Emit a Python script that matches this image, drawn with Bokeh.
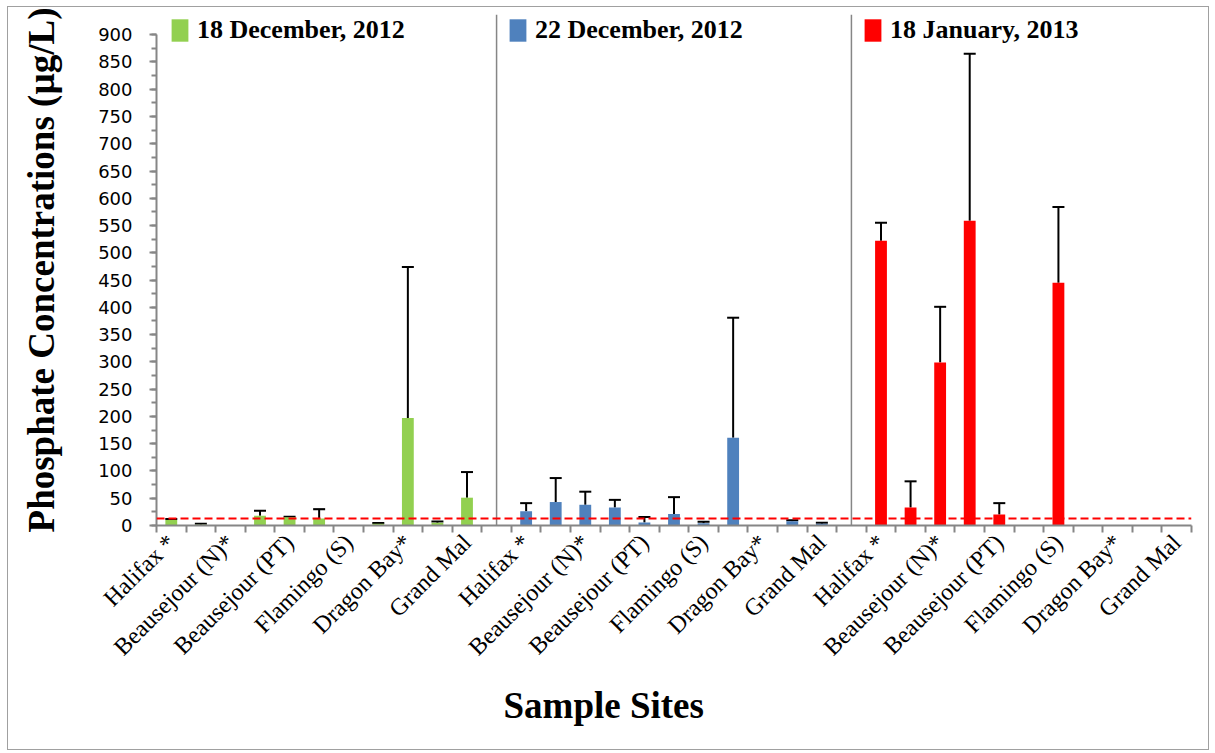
import math
from bokeh.plotting import figure
from bokeh.models import (Range1d, FixedTicker, Span, Whisker, TeeHead, ColumnDataSource,
                          Legend, LegendItem, Title)
from bokeh.embed import file_html
from bokeh.resources import INLINE

# ---------------- data ----------------
sites = ["Halifax *", "", "Beausejour (N)*", "", "Beausejour (PT)", "", "Flamingo (S)", "",
         "Dragon Bay*", "", "Grand Mal"]
dates = ["18 December, 2012", "22 December, 2012", "18 January, 2013"]
colors = ["#92D050", "#4F81BD", "#FF0000"]

dec18_vals = [10, 1.5, 0, 18, 15, 13, 0, 3, 197, 5, 51]
dec18_errs = [2, 1.5, 0, 9, 1, 17, 0, 1.5, 277, 2.5, 47]
dec22_vals = [26, 43, 38, 33, 5.5, 21, 4, 161, 0, 8, 3]
dec22_errs = [15, 44, 24, 14, 10, 31, 3, 220, 0, 1.5, 2]
jan18_vals = [522, 33, 299, 559, 20, 0, 445, 0, 0, 0, 0]
jan18_errs = [33, 48, 102, 306, 21, 0, 139, 0, 0, 0, 0]

threshold = 13
y_ticks = list(range(0, 901, 50))
y_minor = list(range(0, 901, 25))

series_vals = [dec18_vals, dec22_vals, jan18_vals]
series_errs = [dec18_errs, dec22_errs, jan18_errs]
n_sites = len(sites)
stride = n_sites + 1          # one empty separator slot between panels
n_slots = stride * len(dates) - 1

# ---------------- figure ----------------
p = figure(frame_width=1035, frame_height=511, min_border_left=148, min_border_right=17,
           min_border_top=7, min_border_bottom=224,
           x_range=Range1d(-0.5, n_slots - 0.5), y_range=Range1d(0, 937),
           output_backend="svg", toolbar_location=None)
p.styles = {"border": "1px solid #A0A0A0", "margin": "6px 0px 0px 7px"}
p.outline_line_color = None
p.xgrid.visible = False
p.ygrid.visible = False
p.background_fill_color = "white"
p.border_fill_color = "white"

axis_gray = "#868686"

# x axis: labels at every other slot, boundary ticks between slots
label_map = {}
for i in range(len(dates)):
    for j, s in enumerate(sites):
        if s:
            label_map[i * stride + j] = s
p.xaxis.ticker = FixedTicker(ticks=sorted(label_map.keys()),
                             minor_ticks=[k - 0.5 for k in range(n_slots + 1)])
p.xaxis.major_label_overrides = label_map
p.xaxis.major_label_orientation = math.pi / 4
p.xaxis.major_label_text_font = "Liberation Serif"
p.xaxis.major_label_text_font_size = "24px"
p.xaxis.major_label_text_color = "black"
p.xaxis.major_tick_out = 0
p.xaxis.major_tick_in = 0
p.xaxis.minor_tick_out = 7
p.xaxis.minor_tick_in = 0
p.xaxis.minor_tick_line_color = axis_gray
p.xaxis.minor_tick_line_width = 2
p.xaxis.axis_line_color = axis_gray
p.xaxis.axis_line_width = 2
p.xaxis.major_label_standoff = 6

# y axis
p.yaxis.ticker = FixedTicker(ticks=y_ticks, minor_ticks=y_minor)
p.yaxis.bounds = (0, 900)
p.yaxis.major_tick_out = 7
p.yaxis.major_tick_in = 0
p.yaxis.minor_tick_out = 5
p.yaxis.minor_tick_in = 0
p.yaxis.major_tick_line_color = axis_gray
p.yaxis.minor_tick_line_color = axis_gray
p.yaxis.major_tick_line_width = 2
p.yaxis.minor_tick_line_width = 2
p.yaxis.axis_line_color = axis_gray
p.yaxis.axis_line_width = 2
p.yaxis.major_label_text_font = "DejaVu Sans"
p.yaxis.major_label_text_font_size = "18px"
p.yaxis.major_label_text_color = "black"
p.yaxis.major_label_standoff = 17
p.yaxis.axis_label = "Phosphate Concentrations (\u00b5g/L)"
p.yaxis.axis_label_text_font = "Liberation Serif"
p.yaxis.axis_label_text_font_style = "bold"
p.yaxis.axis_label_text_font_size = "37px"
p.yaxis.axis_label_text_color = "black"
p.yaxis.axis_label_standoff = 33

# panel dividers
for i in range(1, len(dates)):
    p.add_layout(Span(location=i * stride - 1, dimension="height",
                      line_color=axis_gray, line_width=1.5))

# bars + error bars
legend_x = [13, 351, 706]
for i, (vals, errs) in enumerate(zip(series_vals, series_errs)):
    xs = [i * stride + j for j in range(n_sites)]
    src = ColumnDataSource(dict(x=xs, top=vals))
    r = p.vbar(x="x", top="top", width=0.4, source=src, fill_color=colors[i], line_color=None)
    ex = [x for x, e in zip(xs, errs) if e > 0]
    lo = [v for v, e in zip(vals, errs) if e > 0]
    hi = [v + e for v, e in zip(vals, errs) if e > 0]
    esrc = ColumnDataSource(dict(x=ex, lower=lo, upper=hi))
    p.add_layout(Whisker(base="x", lower="lower", upper="upper", source=esrc,
                         dimension="height", line_color="black", line_width=2,
                         upper_head=TeeHead(size=12, line_width=2, line_color="black"),
                         lower_head=None))
    leg = Legend(items=[LegendItem(label=dates[i], renderers=[r])],
                 location=(legend_x[i], 480), padding=0, margin=0, spacing=0,
                 glyph_width=21, glyph_height=28, label_standoff=7,
                 border_line_color=None, background_fill_alpha=0,
                 label_text_font="Liberation Serif", label_text_font_style="bold",
                 label_text_font_size="26px", label_text_color="black")
    p.add_layout(leg)

# threshold line
p.add_layout(Span(location=threshold, dimension="width", line_color="#FF0000",
                  line_width=2, line_dash="8 4"))

# x axis title
p.add_layout(Title(text="Sample Sites", align="left", offset=347, standoff=21,
                   text_font="Liberation Serif", text_font_style="bold",
                   text_font_size="37px", text_color="black"), "below")

open("out.html", "w").write(file_html(p, INLINE))
